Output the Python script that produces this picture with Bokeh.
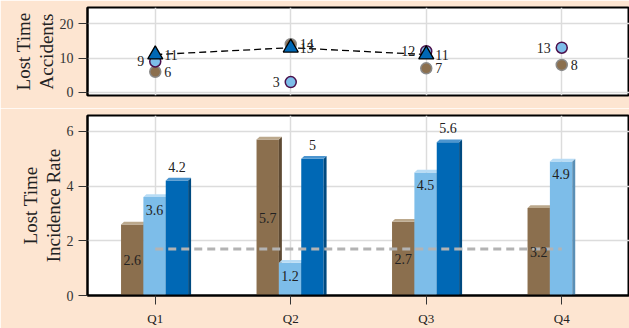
from bokeh.plotting import figure
from bokeh.layouts import column
from bokeh.models import Range1d, FixedTicker, Title
from bokeh.core.properties import value
from bokeh.embed import file_html
from bokeh.resources import INLINE

quarters = ["Q1", "Q2", "Q3", "Q4"]
acc_brown = [6, 14, 7, 8]
acc_light = [9, 3, 12, 13]
acc_dark = [11, 13, 11, None]
rate_brown = [2.6, 5.7, 2.7, 3.2]
rate_light = [3.6, 1.2, 4.5, 4.9]
rate_dark = [4.2, 5.0, 5.6, None]
target_rate = 1.7
title_top = ["Lost Time", "Accidents"]
title_bottom = ["Lost Time", "Incidence Rate"]

BG = "#fde5d1"
BROWN, BROWN_T, BROWN_S = "#8b6f4e", "#bba88c", "#5e4a33"
LIGHT, LIGHT_T, LIGHT_S = "#7dbde9", "#b8dcf5", "#5a8fb5"
DARK, DARK_T, DARK_S = "#0068b5", "#4c95cf", "#004a80"
FONT = "Liberation Serif"
SERIF = value(FONT)
xpos = [i + 0.5 for i in range(len(quarters))]


def style(p, ticks, titles, shift):
    p.background_fill_color = "white"
    p.border_fill_color = BG
    p.outline_line_color = "black"
    p.outline_line_width = 2
    p.xgrid.ticker = FixedTicker(ticks=xpos)
    p.ygrid.ticker = FixedTicker(ticks=ticks)
    p.xgrid.grid_line_color = "#dcdcdc"
    p.ygrid.grid_line_color = "#dcdcdc"
    p.xgrid.grid_line_width = 1.5
    p.ygrid.grid_line_width = 1.5
    ax = p.yaxis[0]
    ax.ticker = FixedTicker(ticks=ticks)
    ax.axis_line_color = "black"
    ax.axis_line_width = 2
    ax.major_tick_in = 0
    ax.major_tick_out = 9
    ax.major_tick_line_color = "#333333"
    ax.minor_tick_line_color = None
    ax.major_label_text_font = FONT
    ax.major_label_text_font_size = "14px"
    ax.major_label_text_color = "#333333"
    ax.major_label_standoff = 5
    for t in reversed(titles):
        p.add_layout(Title(text=t, align="center", text_font=FONT, text_font_size="19px",
                           text_font_style="normal", text_color="#222222",
                           standoff=0, offset=shift), "left")


# ---------- top panel ----------
p1 = figure(width=629, height=108, output_backend="svg", toolbar_location=None,
            x_range=Range1d(0, 4), y_range=Range1d(-0.9, 24.7),
            min_border_left=87, min_border_right=0, min_border_top=7,
            min_border_bottom=13)
p1.xaxis.visible = False
style(p1, [0, 10, 20], title_top, -9)

p1.scatter(xpos, acc_brown, size=11, fill_color=BROWN, line_color="#8a8a8a", line_width=1.5)
p1.scatter(xpos, acc_light, size=11, fill_color=LIGHT, line_color="#4b0f4b", line_width=1.5)
dx = [x for x, v in zip(xpos, acc_dark) if v is not None]
dv = [v for v in acc_dark if v is not None]
p1.line(dx, dv, line_color="black", line_width=1.3, line_dash="7 4")
p1.scatter(dx, dv, marker="triangle", size=15, fill_color=DARK, line_color="black", line_width=1.3)

p1.text(xpos, acc_brown, text=[str(v) for v in acc_brown], x_offset=9, text_align="left",
        text_baseline="middle", text_font=SERIF, text_font_size="14px", text_color="#222222")
p1.text(xpos, acc_light, text=[str(v) for v in acc_light], x_offset=-11, text_align="right",
        text_baseline="middle", text_font=SERIF, text_font_size="14px", text_color="#222222")
p1.text(dx, dv, text=[str(v) for v in dv], x_offset=9, text_align="left",
        text_baseline="middle", text_font=SERIF, text_font_size="14px", text_color="#222222")

# ---------- bottom panel ----------
p2 = figure(width=629, height=220, output_backend="svg", toolbar_location=None,
            x_range=Range1d(0, 4), y_range=Range1d(0, 6.58),
            min_border_left=87, min_border_right=0, min_border_top=7,
            min_border_bottom=0)
style(p2, [0, 2, 4, 6], title_bottom, -7)
xa = p2.xaxis[0]
xa.ticker = FixedTicker(ticks=xpos)
xa.major_label_overrides = {x: q for x, q in zip(xpos, quarters)}
xa.axis_line_color = "black"
xa.axis_line_width = 2
xa.major_tick_in = 0
xa.major_tick_out = 9
xa.major_tick_line_color = "#333333"
xa.minor_tick_line_color = None
xa.major_label_text_font = FONT
xa.major_label_text_font_size = "13px"
xa.major_label_text_color = "#222222"
xa.major_label_standoff = 6

W = 0.165
DX, DY = 0.022, 0.1


def bars(vals, off, face, top, side):
    xs = [x + off for x, v in zip(xpos, vals) if v is not None]
    vs = [v for v in vals if v is not None]
    p2.vbar(x=xs, top=vs, width=W, fill_color=face, line_color=None)
    tx, ty, sx, sy = [], [], [], []
    for x, v in zip(xs, vs):
        x0, x1 = x - W / 2, x + W / 2
        tx.append([x0, x1, x1 + DX, x0 + DX])
        ty.append([v, v, v + DY, v + DY])
        sx.append([x1, x1 + DX, x1 + DX, x1])
        sy.append([0, 0, v + DY, v])
    p2.patches(sx, sy, fill_color=side, line_color=None)
    p2.patches(tx, ty, fill_color=top, line_color=None)
    return xs, vs


bx, bv = bars(rate_brown, -0.17, BROWN, BROWN_T, BROWN_S)
lx, lv = bars(rate_light, -0.005, LIGHT, LIGHT_T, LIGHT_S)
kx, kv = bars(rate_dark, 0.16, DARK, DARK_T, DARK_S)

p2.line([xpos[0], xpos[-1]], [target_rate, target_rate], line_color="#b3b3b3",
        line_width=3, line_dash="8 5")

p2.text(bx, [v / 2 for v in bv], text=[f"{v:g}" for v in bv], text_align="center",
        text_baseline="middle", text_font=SERIF, text_font_size="14px", text_color="#222222")
p2.text(lx, lv, text=[f"{v:g}" for v in lv], y_offset=13, text_align="center",
        text_baseline="middle", text_font=SERIF, text_font_size="14px", text_color="#222222")
p2.text(kx, kv, text=[f"{v:g}" for v in kv], y_offset=-14, text_align="center",
        text_baseline="middle", text_font=SERIF, text_font_size="14px", text_color="#222222")

layout = column(p1, p2, spacing=0)
html = file_html(layout, INLINE)
html = html.replace("<body>", f'<body style="background-color:{BG};">', 1)
open("out.html", "w").write(html)
